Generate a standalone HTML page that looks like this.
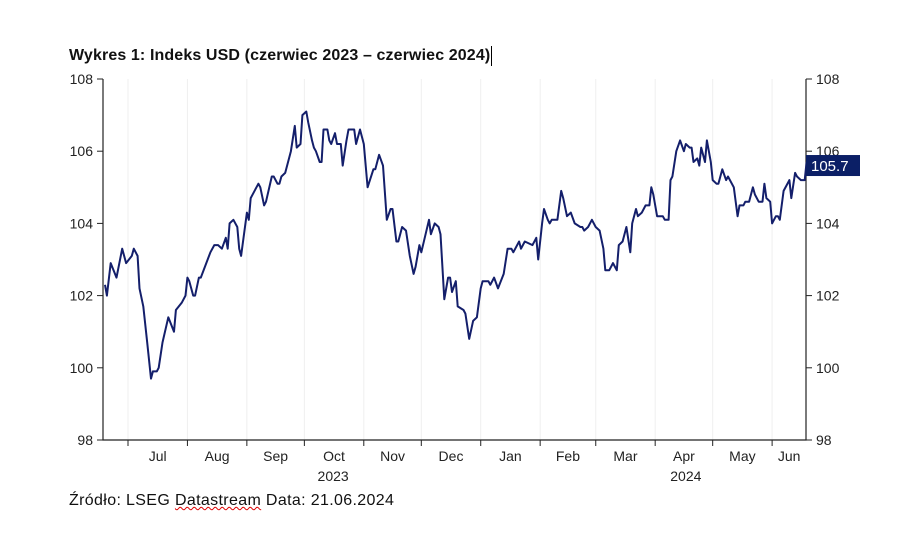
<!DOCTYPE html>
<html><head><meta charset="utf-8"><style>
body{margin:0;background:#fff;width:910px;height:538px;overflow:hidden;font-family:"Liberation Sans",sans-serif}
#title{position:absolute;left:69px;top:46px;font-size:16px;letter-spacing:0.12px;font-weight:bold;color:#111;border-right:1px solid #000;padding-right:1px;line-height:20px;white-space:nowrap}
#src{position:absolute;left:69px;top:492px;font-size:16px;letter-spacing:0.35px;color:#111;white-space:nowrap}
.wavy{text-decoration:underline wavy #d00;text-decoration-thickness:1px}
</style></head><body>
<div id="title">Wykres 1: Indeks USD (czerwiec 2023 – czerwiec 2024)</div>
<svg id="chart" width="910" height="538" style="position:absolute;left:0;top:0"></svg>
<div id="src">Źródło: LSEG <span class="wavy">Datastream</span> Data: 21.06.2024</div>
<script>
const days=[18,19,21,24,27,29,32,33,35,36,38,40,42,43,45,46,48,51,54,55,58,60,61,62,64,65,67,68,73,75,77,79,81,82,83,85,87,88,89,92,93,94,98,99,101,102,105,106,108,109,110,112,115,117,118,120,121,123,124,126,127,128,130,131,132,134,135,136,138,139,141,142,144,145,148,149,151,153,155,158,159,161,163,165,167,168,170,171,173,175,177,179,180,182,183,187,188,190,192,193,195,197,198,199,201,202,205,206,208,210,212,214,215,218,219,221,223,226,228,230,231,234,235,237,241,243,244,246,247,249,250,251,254,256,257,259,261,263,266,267,268,270,272,274,276,278,279,281,283,285,286,288,290,292,293,295,296,298,300,302,303,304,306,309,310,312,313,314,316,318,320,321,323,324,325,327,328,329,331,332,334,335,337,338,340,342,343,346,348,349,351,352,354,356,357,359,361,362,363,365,366,368,369,370,372,375,376,378,379,381,383,384];
const values=[102.3,102.0,102.9,102.5,103.3,102.9,103.1,103.3,103.1,102.2,101.7,100.7,99.7,99.9,99.9,100.0,100.7,101.4,101.0,101.6,101.8,102.0,102.5,102.4,102.0,102.0,102.5,102.5,103.2,103.4,103.4,103.3,103.6,103.3,104.0,104.1,103.9,103.3,103.1,104.3,104.1,104.7,105.1,105.0,104.5,104.6,105.3,105.3,105.1,105.1,105.3,105.4,106.0,106.7,106.1,106.2,107.0,107.1,106.8,106.3,106.1,106.0,105.7,105.7,106.6,106.6,106.3,106.2,106.5,106.2,106.2,105.6,106.3,106.6,106.6,106.2,106.6,106.2,105.0,105.5,105.5,105.9,105.6,104.1,104.4,104.4,103.5,103.5,103.9,103.8,103.1,102.6,102.8,103.4,103.2,104.1,103.7,104.0,103.9,103.7,101.9,102.5,102.5,102.1,102.4,101.7,101.6,101.5,100.8,101.3,101.4,102.2,102.4,102.4,102.3,102.5,102.2,102.6,103.3,103.3,103.2,103.5,103.3,103.5,103.4,103.6,103.0,104.0,104.4,104.1,104.0,104.1,104.1,104.9,104.7,104.2,104.3,104.0,103.9,103.9,103.8,103.9,104.1,103.9,103.8,103.3,102.7,102.7,102.9,102.7,103.4,103.5,103.9,103.2,104.0,104.4,104.2,104.3,104.5,104.5,105.0,104.8,104.2,104.2,104.1,104.1,105.2,105.3,106.0,106.3,106.0,106.2,106.1,106.1,105.7,105.8,105.6,106.1,105.7,106.3,105.7,105.2,105.1,105.1,105.5,105.2,105.3,105.0,104.2,104.5,104.5,104.6,104.6,105.0,104.8,104.6,104.6,105.1,104.7,104.6,104.0,104.2,104.2,104.1,104.9,105.2,104.7,105.4,105.3,105.2,105.2,105.7];
const yTicks=[98,100,102,104,106,108];
const monthLabels=["Jul","Aug","Sep","Oct","Nov","Dec","Jan","Feb","Mar","Apr","May","Jun"];
const monthStarts=[30,61,92,122,153,183,214,245,274,305,335,366];
const yearLabels=["2023","2024"];
const yearDays=[137,321];
const lastLabel="105.7";

const L=103,R=806,T=79,B=440;
const X=d=>128+(d-30)*1.917;
const Y=v=>T+(108-v)*36.1;
const svg=document.getElementById('chart');
const NS='http://www.w3.org/2000/svg';
function mk(tag,attrs,txt){const e=document.createElementNS(NS,tag);for(const k in attrs)e.setAttribute(k,attrs[k]);if(txt!==undefined)e.textContent=txt;svg.appendChild(e);return e;}
monthStarts.forEach((d,i)=>{
 const g=mk('line',{x1:X(d),x2:X(d),y1:T,y2:B,stroke:'#efefef','stroke-width':1});
 
 
 const t=mk('line',{x1:X(d),x2:X(d),y1:B,y2:B+6,stroke:'#222'});
 
 
 const next=i<monthStarts.length-1?monthStarts[i+1]:Math.min(d+30,384);
 const mid=i<monthStarts.length-1?(X(d)+X(next))/2:X(d)+17;
 const lb=mk('text',{x:mid,y:B+21,'text-anchor':'middle','font-size':14,fill:'#222'},monthLabels[i]);
 
 
});
yearLabels.forEach((s,i)=>{
 const t=mk('text',{x:X(yearDays[i]),y:B+41,'text-anchor':'middle','font-size':14,fill:'#222'},s);
 
 
});
yTicks.forEach(v=>{
 const a=mk('line',{x1:L-6,x2:L,y1:Y(v),y2:Y(v),stroke:'#222'});
 
 
 const b=mk('line',{x1:R,x2:R+6,y1:Y(v),y2:Y(v),stroke:'#222'});
 
 
 const t1=mk('text',{x:L-10,y:Y(v)+5,'text-anchor':'end','font-size':14,fill:'#222'},v);
 
 
 const t2=mk('text',{x:R+10,y:Y(v)+5,'font-size':14,fill:'#222'},v);
 
 
});
const ax=mk('path',{d:`M${L},${T}V${B}H${R}V${T}`,fill:'none',stroke:'#222','stroke-width':1.2});


const pts=days.map((d,i)=>X(d).toFixed(1)+','+Y(values[i]).toFixed(1)).join(' ');
const ln=mk('polyline',{points:pts,fill:'none',stroke:'#141f6b','stroke-width':2,'stroke-linejoin':'round'});


const ly=Y(values[values.length-1]);
const bx=mk('rect',{x:R,y:ly-7,width:54,height:21,fill:'#0b1f66'});


const bt=mk('text',{x:R+5,y:ly+9,'font-size':15,fill:'#fff'},lastLabel);


</script>
</body></html>
